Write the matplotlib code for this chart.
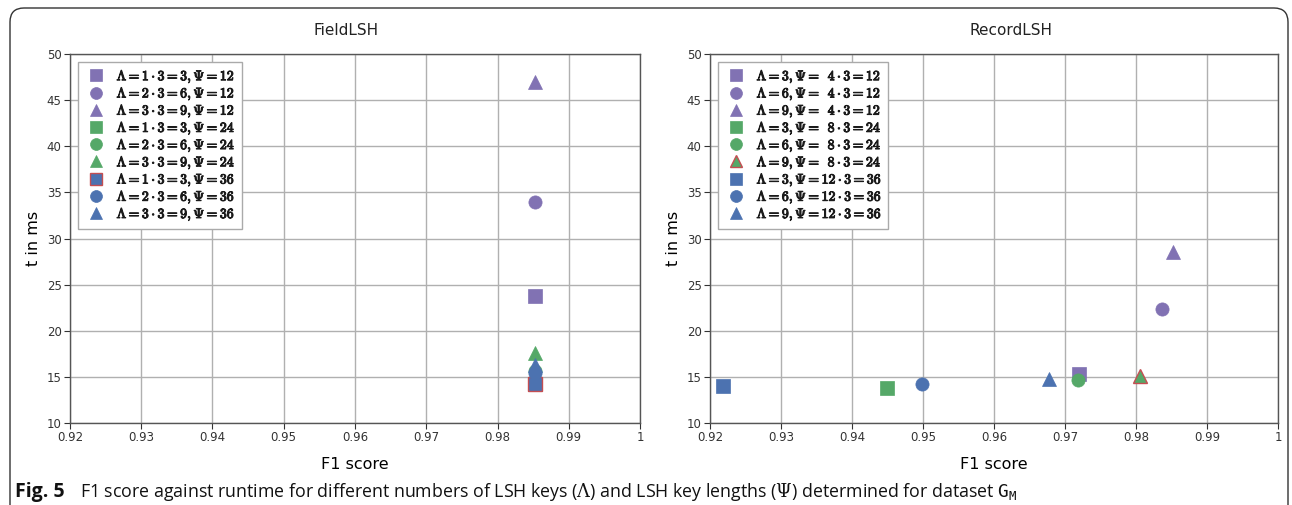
import matplotlib.pyplot as plt
import matplotlib.patheffects as pe
from matplotlib.patches import FancyBboxPatch
from matplotlib.transforms import IdentityTransform

# colours (seaborn "deep")
PURPLE = "#8172B3"
GREEN = "#55A868"
BLUE = "#4C72B0"
RED = "#C44E52"

# FieldLSH: Lambda = 3, 6, 9 ; Psi = 12, 24, 36
field_f1 = [0.9852, 0.9853, 0.9853,
            0.9853, 0.9853, 0.9853,
            0.9853, 0.9853, 0.9853]
field_ms = [23.8, 34.0, 47.0,
            14.2, 15.6, 17.6,
            14.2, 15.4, 16.3]
field_labels = [
    r"$\mathbf{\Lambda = 1 \cdot 3 = 3, \Psi = 12}$",
    r"$\mathbf{\Lambda = 2 \cdot 3 = 6, \Psi = 12}$",
    r"$\mathbf{\Lambda = 3 \cdot 3 = 9, \Psi = 12}$",
    r"$\mathbf{\Lambda = 1 \cdot 3 = 3, \Psi = 24}$",
    r"$\mathbf{\Lambda = 2 \cdot 3 = 6, \Psi = 24}$",
    r"$\mathbf{\Lambda = 3 \cdot 3 = 9, \Psi = 24}$",
    r"$\mathbf{\Lambda = 1 \cdot 3 = 3, \Psi = 36}$",
    r"$\mathbf{\Lambda = 2 \cdot 3 = 6, \Psi = 36}$",
    r"$\mathbf{\Lambda = 3 \cdot 3 = 9, \Psi = 36}$",
]

# RecordLSH
record_f1 = [0.9720, 0.9837, 0.9852,
             0.9449, 0.9718, 0.9806,
             0.9218, 0.9499, 0.9677]
record_ms = [15.3, 22.4, 28.5,
             13.8, 14.7, 15.1,
             14.0, 14.2, 14.8]
record_labels = [
    r"$\mathbf{\Lambda = 3, \Psi = \enspace 4 \cdot 3 = 12}$",
    r"$\mathbf{\Lambda = 6, \Psi = \enspace 4 \cdot 3 = 12}$",
    r"$\mathbf{\Lambda = 9, \Psi = \enspace 4 \cdot 3 = 12}$",
    r"$\mathbf{\Lambda = 3, \Psi = \enspace 8 \cdot 3 = 24}$",
    r"$\mathbf{\Lambda = 6, \Psi = \enspace 8 \cdot 3 = 24}$",
    r"$\mathbf{\Lambda = 9, \Psi = \enspace 8 \cdot 3 = 24}$",
    r"$\mathbf{\Lambda = 3, \Psi = 12 \cdot 3 = 36}$",
    r"$\mathbf{\Lambda = 6, \Psi = 12 \cdot 3 = 36}$",
    r"$\mathbf{\Lambda = 9, \Psi = 12 \cdot 3 = 36}$",
]

colors = [PURPLE] * 3 + [GREEN] * 3 + [BLUE] * 3
markers = ["s", "o", "^"] * 3
field_edges = [None] * 6 + [RED, None, None]
record_edges = [None] * 5 + [RED, None, None, None]

x_ticks = [0.92, 0.93, 0.94, 0.95, 0.96, 0.97, 0.98, 0.99, 1.0]
x_ticklabels = ["0.92", "0.93", "0.94", "0.95", "0.96", "0.97", "0.98", "0.99", "1"]
y_ticks = [10, 15, 20, 25, 30, 35, 40, 45, 50]

W, H = 1292, 505
fig = plt.figure(figsize=(W / 100, H / 100), dpi=100)

# rounded frame around the whole figure
frame = FancyBboxPatch((10, -40), 1278, 537, boxstyle="round,pad=0,rounding_size=14",
                       transform=IdentityTransform(), facecolor="none",
                       edgecolor="#333333", linewidth=1.0)
fig.patches.append(frame)


def draw_panel(ax, f1, ms, labels, edges, title, title_x):
    for i in range(len(f1)):
        ec = edges[i] if edges[i] is not None else colors[i]
        ax.plot(f1[i], ms[i], linestyle="none", marker=markers[i], color=colors[i],
                markeredgecolor=ec, markeredgewidth=1.0 if edges[i] else 0.5,
                markersize=9.5, label=labels[i], zorder=3)
    ax.set_xlim(0.92, 1.0)
    ax.set_ylim(10, 50)
    ax.set_xticks(x_ticks)
    ax.set_xticklabels(x_ticklabels)
    ax.set_yticks(y_ticks)
    ax.grid(True, color="#b0b0b0", linewidth=1.0)
    ax.set_axisbelow(True)
    for s in ax.spines.values():
        s.set_color("#555555")
        s.set_linewidth(1.0)
    ax.tick_params(labelsize=8.5, colors="#333333", length=4, width=0.8, pad=2)
    ax.set_xlabel("F1 score", fontsize=11.5, labelpad=9)
    ax.set_ylabel("t in ms", fontsize=11.5, labelpad=4)
    leg = ax.legend(loc="upper left", fontsize=10, frameon=True, fancybox=False,
                    edgecolor="#aaaaaa", framealpha=1.0, handletextpad=0.7,
                    labelspacing=0.07, borderpad=0.45, handlelength=1.6,
                    markerscale=0.9, bbox_to_anchor=(0.0, 1.0), borderaxespad=0.6)
    leg.get_frame().set_linewidth(1.0)
    for t in leg.get_texts():
        t.set_math_fontfamily("cm")
        t.set_color("#1a1a1a")
        t.set_path_effects([pe.withStroke(linewidth=0.7, foreground="#1a1a1a")])
    ax.set_title(title, fontsize=11, pad=14, color="#222222", x=title_x)


ax1 = fig.add_axes([70 / W, 1 - 423 / H, 570 / W, 369 / H])
ax2 = fig.add_axes([710 / W, 1 - 423 / H, 568 / W, 369 / H])
draw_panel(ax1, field_f1, field_ms, field_labels, field_edges, "FieldLSH", 0.485)
draw_panel(ax2, record_f1, record_ms, record_labels, record_edges, "RecordLSH", 0.53)

# caption
fig.text(15 / W, 1 - 492 / H, "Fig. 5", fontsize=14, fontweight="bold",
         family="Open Sans", va="center", color="#111111")
fig.text(80 / W, 1 - 492 / H,
         r"F1 score against runtime for different numbers of LSH keys ($\Lambda$) and "
         r"LSH key lengths ($\Psi$) determined for dataset $\mathtt{G}_{\mathtt{M}}$",
         fontsize=12.8, family="Open Sans", va="center", color="#111111",
         math_fontfamily="dejavuserif")

fig.savefig("out.png", dpi=100)
